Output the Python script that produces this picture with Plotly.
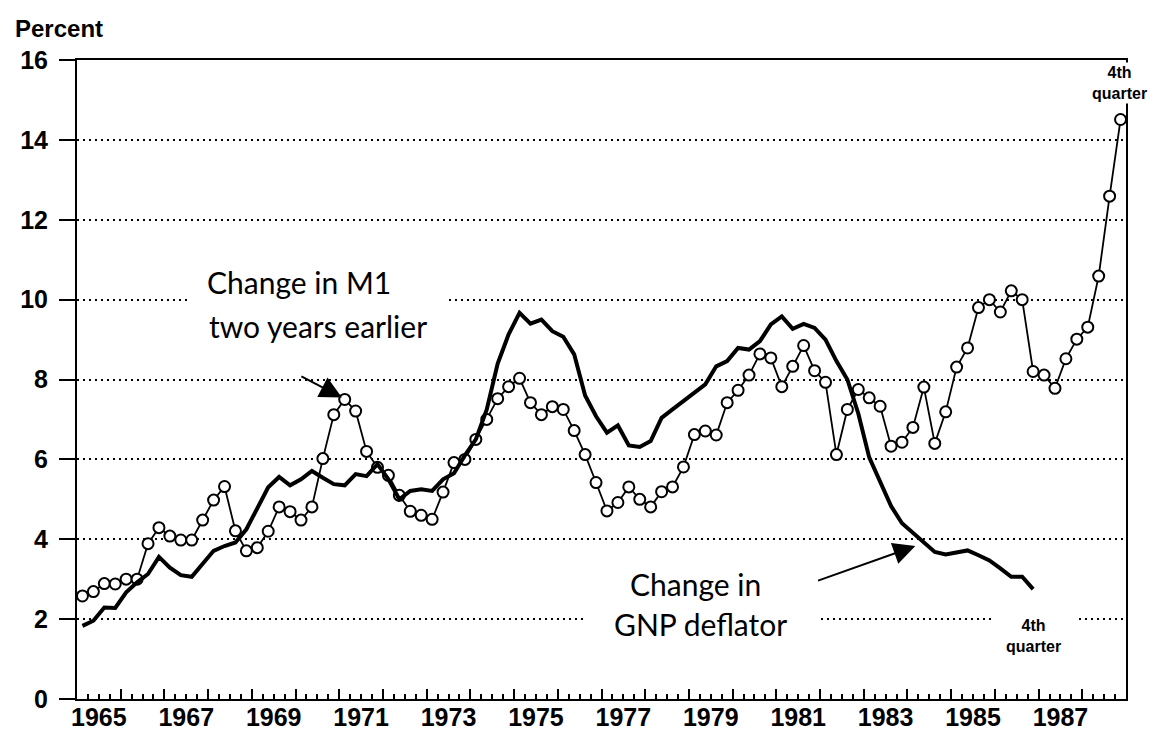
import pandas as pd
import plotly.graph_objects as go

# ---------------- data ----------------
m1_start, m1_end = "1965Q1", "1988Q4"
m1_values = [2.58, 2.69, 2.89, 2.88,
             3.00, 3.00, 3.89, 4.29,
             4.08, 3.98, 3.98, 4.48,
             4.98, 5.32, 4.21, 3.71,
             3.79, 4.20, 4.81, 4.69,
             4.48, 4.81, 6.02, 7.12,
             7.50, 7.21, 6.20, 5.80,
             5.60, 5.10, 4.70, 4.60,
             4.50, 5.18, 5.92, 6.00,
             6.50, 7.00, 7.52, 7.82,
             8.03, 7.42, 7.12, 7.32,
             7.25, 6.72, 6.12, 5.42,
             4.71, 4.92, 5.31, 5.00,
             4.81, 5.19, 5.31, 5.81,
             6.62, 6.71, 6.61, 7.42,
             7.73, 8.11, 8.64, 8.54,
             7.82, 8.33, 8.85, 8.22,
             7.93, 6.12, 7.25, 7.75,
             7.54, 7.33, 6.33, 6.43,
             6.80, 7.81, 6.40, 7.19,
             8.31, 8.79, 9.80, 10.00,
             9.69, 10.22, 10.00, 8.20,
             8.11, 7.78, 8.52, 9.01,
             9.31, 10.59, 12.59, 14.51]

gnp_start, gnp_end = "1965Q1", "1986Q4"
gnp_values = [1.83, 1.96, 2.29, 2.28,
              2.67, 2.92, 3.13, 3.56,
              3.29, 3.10, 3.06, 3.38,
              3.71, 3.83, 3.92, 4.25,
              4.75, 5.30, 5.56, 5.35,
              5.50, 5.71, 5.54, 5.38,
              5.35, 5.63, 5.58, 5.88,
              5.50, 5.00, 5.21, 5.25,
              5.21, 5.50, 5.65, 6.10,
              6.50, 7.25, 8.40, 9.13,
              9.67, 9.40, 9.50, 9.21,
              9.07, 8.63, 7.60, 7.08,
              6.67, 6.85, 6.35, 6.31,
              6.46, 7.04, 7.25, 7.46,
              7.68, 7.88, 8.33, 8.46,
              8.79, 8.75, 8.96, 9.38,
              9.58, 9.27, 9.39, 9.29,
              9.00, 8.46, 8.00, 7.15,
              6.05, 5.42, 4.83, 4.40,
              4.15, 3.90, 3.68, 3.62,
              3.66, 3.72, 3.60, 3.47,
              3.27, 3.06, 3.06, 2.75]

year_labels = ["1965", "1967", "1969", "1971", "1973", "1975",
               "1977", "1979", "1981", "1983", "1985", "1987"]
y_ticks = [0, 2, 4, 6, 8, 10, 12, 14, 16]


def quarter_mid(start, end):
    p = pd.period_range(start, end, freq="Q")
    return [q.year + (q.quarter - 0.5) / 4 for q in p]


m1_x = quarter_mid(m1_start, m1_end)
gnp_x = quarter_mid(gnp_start, gnp_end)
label_pos = [int(s) + 0.5 for s in year_labels]

TICKFONT = dict(family="Liberation Sans, Arial", size=25, color="black", weight="bold")
TEXTFONT = dict(family="Lato, Noto Sans, sans-serif", size=30, color="black")
SMALLBOLD = dict(family="Liberation Sans, Arial", size=16, color="black", weight="bold")

fig = go.Figure()
fig.add_trace(go.Scatter(
    x=m1_x, y=m1_values, mode="lines+markers", showlegend=False,
    line=dict(color="black", width=1.8),
    marker=dict(symbol="circle", size=11, color="white",
                line=dict(color="black", width=2)),
))
fig.add_trace(go.Scatter(
    x=gnp_x, y=gnp_values, mode="lines", showlegend=False,
    line=dict(color="black", width=4),
))
# invisible helper so the label axis is drawn
fig.add_trace(go.Scatter(
    x=label_pos, y=[0] * len(label_pos), xaxis="x2", mode="markers",
    marker=dict(opacity=0), showlegend=False, hoverinfo="skip",
))

fig.update_layout(
    width=1149, height=735,
    margin=dict(l=59, r=31, t=52, b=43),
    plot_bgcolor="white", paper_bgcolor="white",
    xaxis=dict(
        range=[1965, 1989], tickmode="linear", tick0=1965, dtick=1,
        ticks="inside", ticklen=10, tickwidth=2, tickcolor="black",
        showticklabels=False, showgrid=False, zeroline=False,
        showline=True, linewidth=2, linecolor="black", mirror=True,
        minor=dict(tickmode="linear", tick0=1965, dtick=0.25, ticks="inside",
                   ticklen=5, tickwidth=1.5, tickcolor="black", showgrid=False),
    ),
    xaxis2=dict(
        overlaying="x", anchor="y", side="bottom", range=[1965, 1989],
        tickmode="array", tickvals=label_pos, ticktext=year_labels,
        ticks="", showgrid=False, showline=False, zeroline=False,
        tickfont=TICKFONT, ticklabelstandoff=1,
    ),
    yaxis=dict(
        range=[0, 16], tickmode="array", tickvals=y_ticks,
        ticks="outside", ticklen=16, tickwidth=2, tickcolor="black",
        tickfont=TICKFONT, ticklabelstandoff=6,
        showgrid=True, gridcolor="black", gridwidth=2, griddash="2px,4px",
        zeroline=False, showline=True, linewidth=2, linecolor="black", mirror=True,
    ),
)

# white breaks in the dotted grid behind the labels
for x0, x1 in [(1967.52, 1973.46), (1976.59, 1981.96), (1985.93, 1987.92)]:
    yc = 10 if x0 < 1970 else 2
    fig.add_shape(type="rect", xref="x", yref="y", x0=x0, x1=x1,
                  y0=yc - 0.2, y1=yc + 0.2, fillcolor="white",
                  line=dict(width=0), layer="between")

ann = [
    dict(text="Percent", xref="paper", yref="paper", x=-0.0614, y=1.05,
         xanchor="left", yanchor="middle", showarrow=False,
         font=dict(family="Liberation Sans, Arial", size=24, color="black", weight="bold")),
    dict(text="Change in M1", x=1970.09, y=10.43, showarrow=False, font=TEXTFONT),
    dict(text="two years earlier", x=1970.51, y=9.33, showarrow=False, font=TEXTFONT),
    dict(text="Change in", x=1979.15, y=2.875, showarrow=False, font=TEXTFONT),
    dict(text="GNP deflator", x=1979.26, y=1.875, showarrow=False, font=TEXTFONT),
    dict(text="4th<br>quarter", x=1986.88, y=1.59, showarrow=False, font=SMALLBOLD),
    dict(text="4th<br>quarter", x=1988.86, y=15.43, showarrow=False, font=SMALLBOLD,
         bgcolor="white"),
    dict(text="", x=1971.06, y=7.55, ax=1970.10, ay=8.1, axref="x", ayref="y",
         showarrow=True, arrowhead=2, arrowsize=2.2, arrowwidth=2, arrowcolor="black"),
    dict(text="", x=1984.18, y=3.83, ax=1981.92, ay=2.95, axref="x", ayref="y",
         showarrow=True, arrowhead=2, arrowsize=2.2, arrowwidth=2, arrowcolor="black"),
]
for a in ann:
    a.setdefault("xref", "x")
    a.setdefault("yref", "y")
    fig.add_annotation(**a)

fig.write_html("out.html")
